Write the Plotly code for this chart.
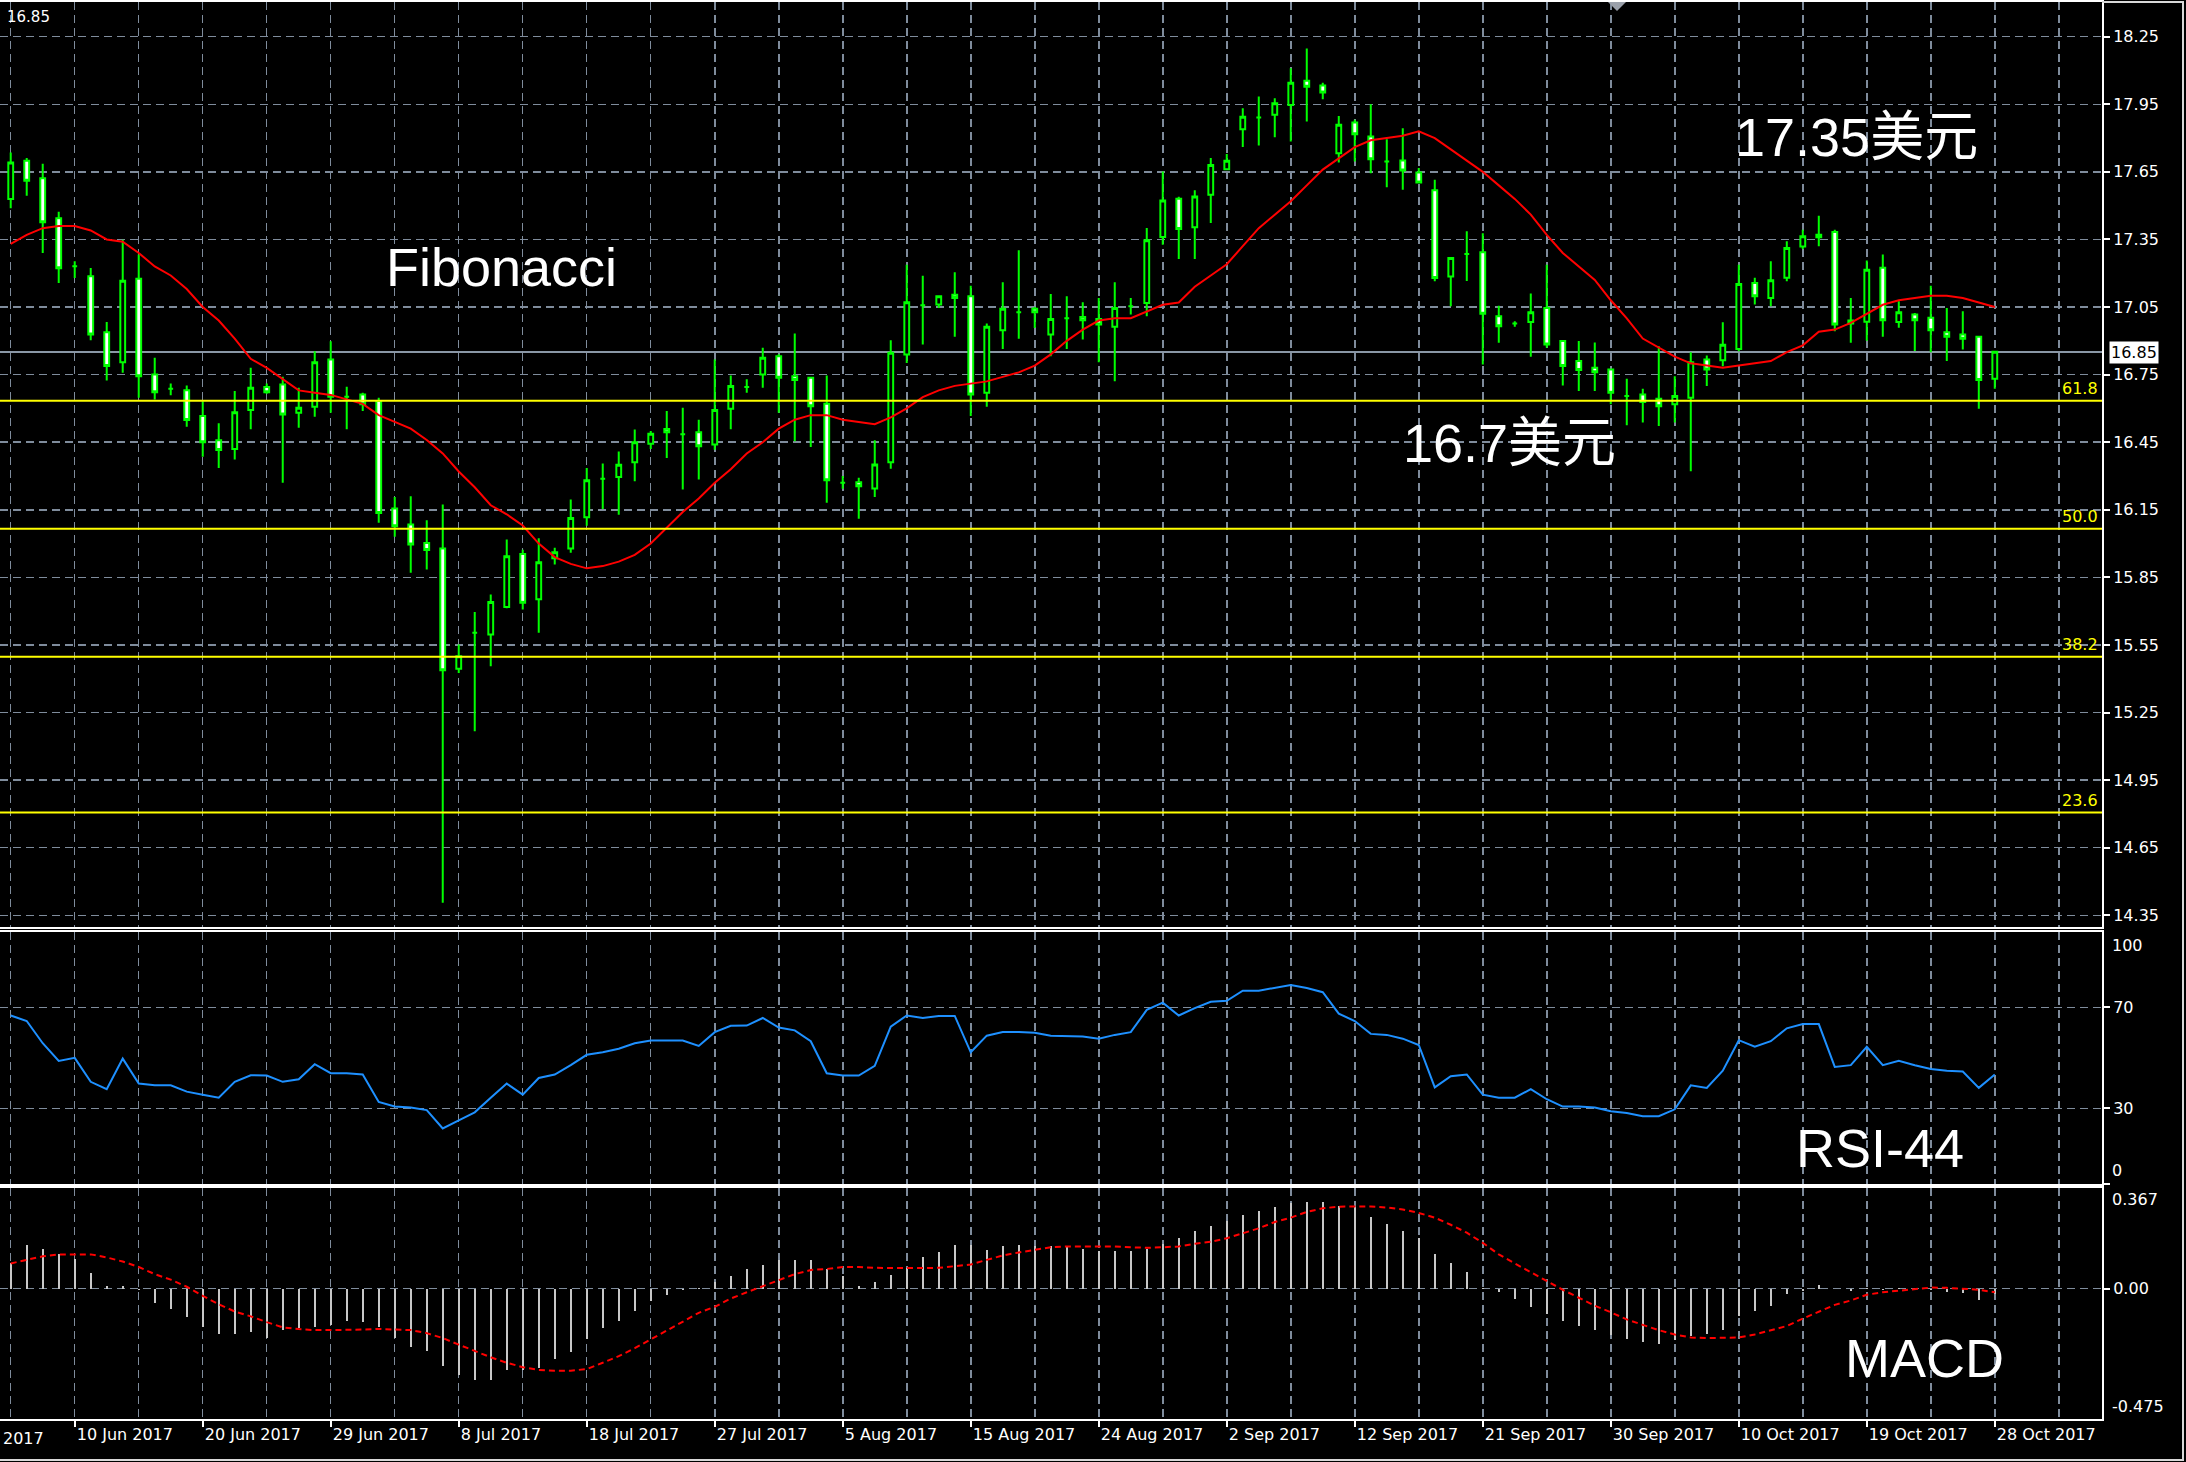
import plotly.graph_objects as go

# ---------------- data ----------------
OPEN = [17.529, 17.699, 17.622, 17.444, 17.231, 17.187, 16.938, 16.805, 17.175, 16.751,
        16.687, 16.681, 16.566, 16.459, 16.420, 16.593, 16.695, 16.706, 16.581, 16.607,
        16.817, 16.652, 16.662, 16.633, 16.156, 16.085, 16.003, 15.978, 15.444, 15.604,
        15.596, 15.719, 15.954, 15.753, 15.935, 15.978, 16.117, 16.288, 16.295, 16.361,
        16.443, 16.509, 16.485, 16.494, 16.440, 16.599, 16.695, 16.750, 16.832, 16.743,
        16.736, 16.621, 16.270, 16.272, 16.244, 16.361, 16.839, 17.058, 17.061, 17.105,
        17.098, 16.670, 16.947, 17.027, 17.042, 16.928, 17.000, 17.006, 16.997, 16.962,
        17.053, 17.068, 17.361, 17.531, 17.404, 17.548, 17.662, 17.839, 17.891, 17.903,
        17.947, 18.054, 18.033, 17.733, 17.869, 17.807, 17.696, 17.700, 17.647, 17.568,
        17.186, 17.285, 17.293, 17.009, 16.977, 16.983, 17.046, 16.899, 16.810, 16.780,
        16.773, 16.655, 16.662, 16.643, 16.618, 16.647, 16.817, 16.814, 16.864, 17.157,
        17.090, 17.180, 17.319, 17.371, 17.383, 16.977, 16.985, 17.224, 16.983, 17.017,
        17.002, 16.938, 16.928, 16.918, 16.732]
HIGH = [17.736, 17.711, 17.686, 17.473, 17.253, 17.223, 16.983, 17.349, 17.283, 16.825,
        16.711, 16.702, 16.632, 16.534, 16.677, 16.780, 16.711, 16.740, 16.692, 16.854,
        16.898, 16.696, 16.670, 16.647, 16.207, 16.210, 16.104, 16.173, 15.552, 15.696,
        15.774, 16.018, 15.973, 16.024, 15.981, 16.196, 16.336, 16.355, 16.409, 16.506,
        16.500, 16.588, 16.603, 16.550, 16.817, 16.746, 16.729, 16.869, 16.840, 16.932,
        16.740, 16.746, 16.300, 16.292, 16.459, 16.903, 17.238, 17.189, 17.098, 17.204,
        17.145, 16.977, 17.160, 17.302, 17.050, 17.108, 17.098, 17.071, 17.090, 17.160,
        17.090, 17.401, 17.652, 17.540, 17.568, 17.711, 17.729, 17.932, 17.984, 17.977,
        18.110, 18.198, 18.046, 17.898, 17.881, 17.950, 17.795, 17.844, 17.667, 17.615,
        17.268, 17.386, 17.377, 17.056, 16.987, 17.110, 17.238, 16.903, 16.899, 16.892,
        16.773, 16.732, 16.687, 16.876, 16.743, 16.849, 16.835, 16.982, 17.238, 17.180,
        17.253, 17.342, 17.393, 17.455, 17.393, 17.090, 17.256, 17.283, 17.076, 17.024,
        17.145, 17.046, 17.031, 16.918, 16.851]
LOW = [17.489, 17.544, 17.290, 17.157, 17.179, 16.903, 16.724, 16.758, 16.647, 16.640,
       16.658, 16.519, 16.385, 16.336, 16.373, 16.507, 16.665, 16.270, 16.514, 16.563,
       16.581, 16.507, 16.588, 16.092, 16.030, 15.870, 15.885, 14.406, 15.426, 15.167,
       15.456, 15.713, 15.707, 15.604, 15.907, 15.959, 16.079, 16.154, 16.128, 16.277,
       16.420, 16.380, 16.240, 16.284, 16.417, 16.507, 16.670, 16.692, 16.581, 16.454,
       16.429, 16.181, 16.243, 16.110, 16.207, 16.332, 16.802, 16.884, 17.046, 16.918,
       16.566, 16.607, 16.864, 16.909, 16.957, 16.832, 16.864, 16.906, 16.805, 16.721,
       17.017, 17.009, 17.327, 17.263, 17.263, 17.423, 17.659, 17.760, 17.767, 17.804,
       17.785, 17.873, 17.972, 17.692, 17.696, 17.644, 17.582, 17.571, 17.600, 17.164,
       17.054, 17.165, 16.795, 16.891, 16.962, 16.829, 16.869, 16.702, 16.677, 16.677,
       16.618, 16.525, 16.537, 16.522, 16.537, 16.321, 16.699, 16.787, 16.854, 17.061,
       17.053, 17.164, 17.308, 17.320, 16.943, 16.891, 16.900, 16.918, 16.958, 16.855,
       16.849, 16.810, 16.861, 16.599, 16.687]
CLOSE = [17.692, 17.610, 17.426, 17.222, 17.231, 16.928, 16.788, 17.167, 16.743, 16.672,
         16.687, 16.548, 16.450, 16.415, 16.583, 16.692, 16.672, 16.573, 16.603, 16.805,
         16.652, 16.652, 16.618, 16.136, 16.077, 15.996, 15.971, 15.438, 15.500, 15.604,
         15.741, 15.944, 15.737, 15.917, 15.962, 16.114, 16.281, 16.288, 16.350, 16.450,
         16.487, 16.494, 16.485, 16.432, 16.593, 16.699, 16.695, 16.825, 16.736, 16.726,
         16.610, 16.281, 16.270, 16.255, 16.351, 16.847, 17.071, 17.058, 17.098, 17.090,
         16.662, 16.962, 17.042, 17.027, 17.027, 16.997, 17.000, 16.991, 16.972, 17.046,
         17.053, 17.346, 17.523, 17.396, 17.541, 17.681, 17.699, 17.895, 17.891, 17.955,
         18.046, 18.028, 18.002, 17.859, 17.817, 17.706, 17.696, 17.656, 17.603, 17.179,
         17.268, 17.285, 17.020, 16.965, 16.977, 17.027, 16.884, 16.788, 16.770, 16.761,
         16.670, 16.655, 16.628, 16.610, 16.655, 16.805, 16.773, 16.883, 17.152, 17.098,
         17.169, 17.312, 17.364, 17.360, 16.972, 16.990, 17.216, 16.991, 17.027, 16.991,
         16.947, 16.918, 16.909, 16.726, 16.851]
MA = [17.33, 17.37, 17.40, 17.41, 17.41, 17.39, 17.35, 17.34, 17.29, 17.23,
      17.19, 17.13, 17.05, 16.99, 16.91, 16.82, 16.78, 16.73, 16.68, 16.67,
      16.66, 16.64, 16.62, 16.57, 16.54, 16.51, 16.46, 16.40, 16.32, 16.25,
      16.17, 16.13, 16.08, 16.00, 15.94, 15.91, 15.89, 15.90, 15.92, 15.95,
      16.00, 16.07, 16.14, 16.20, 16.27, 16.33, 16.40, 16.45, 16.51, 16.55,
      16.57, 16.57, 16.55, 16.54, 16.53, 16.56, 16.60, 16.65, 16.68, 16.70,
      16.71, 16.72, 16.74, 16.76, 16.79, 16.84, 16.90, 16.95, 16.99, 17.00,
      17.00, 17.03, 17.06, 17.07, 17.14, 17.19, 17.24, 17.32, 17.40, 17.46,
      17.52, 17.59, 17.66, 17.71, 17.76, 17.79, 17.80, 17.81, 17.83, 17.80,
      17.75, 17.70, 17.65, 17.59, 17.53, 17.46, 17.37, 17.29, 17.23, 17.17,
      17.08, 17.00, 16.91, 16.87, 16.83, 16.80, 16.79, 16.78, 16.79, 16.80,
      16.81, 16.85, 16.88, 16.94, 16.95, 16.98, 17.02, 17.06, 17.08, 17.09,
      17.10, 17.10, 17.09, 17.07, 17.05]
RSI = [66.8, 64.6, 55.8, 48.8, 50.0, 40.5, 37.6, 49.7, 39.8, 39.1,
       39.1, 36.6, 35.4, 34.2, 40.5, 43.1, 43.0, 40.5, 41.5, 47.5,
       43.9, 43.9, 43.4, 32.5, 30.7, 30.3, 29.3, 22.0, 25.2, 28.4,
       34.2, 39.8, 35.4, 42.0, 43.4, 47.1, 51.2, 52.2, 53.6, 55.8,
       56.9, 56.9, 56.9, 54.7, 60.2, 62.7, 62.8, 65.8, 62.0, 60.9,
       56.6, 43.9, 43.0, 43.0, 46.8, 62.4, 66.8, 65.8, 66.6, 66.6,
       52.2, 58.8, 60.2, 60.2, 59.9, 58.8, 58.5, 58.5, 57.6, 59.1,
       60.2, 69.0, 71.9, 66.8, 69.7, 72.2, 72.6, 76.6, 76.6, 77.7,
       78.9, 77.7, 76.0, 67.5, 64.6, 59.5, 59.1, 57.6, 55.1, 38.3,
       42.7, 43.4, 35.4, 34.2, 34.2, 37.6, 33.6, 30.7, 30.7, 30.3,
       28.8, 28.1, 26.9, 26.9, 29.6, 39.1, 38.1, 44.9, 57.0, 54.4,
       56.6, 61.7, 63.4, 63.4, 46.4, 47.1, 54.4, 47.1, 48.8, 47.1,
       45.6, 44.9, 44.6, 38.1, 43.4]
MACD_HIST = [0.092, 0.158, 0.145, 0.125, 0.110, 0.057, 0.010, 0.008, -0.005, -0.053,
             -0.075, -0.105, -0.141, -0.164, -0.164, -0.158, -0.178, -0.151, -0.142, -0.138,
             -0.132, -0.118, -0.122, -0.141, -0.180, -0.211, -0.228, -0.283, -0.316, -0.333,
             -0.333, -0.296, -0.296, -0.289, -0.257, -0.230, -0.184, -0.145, -0.118, -0.083,
             -0.046, -0.022, -0.004, 0.004, 0.026, 0.046, 0.072, 0.088, 0.105, 0.105,
             0.105, 0.072, 0.046, 0.009, 0.026, 0.049, 0.075, 0.114, 0.132, 0.158,
             0.158, 0.141, 0.154, 0.158, 0.154, 0.154, 0.154, 0.145, 0.138, 0.138,
             0.136, 0.145, 0.164, 0.184, 0.210, 0.230, 0.246, 0.267, 0.283, 0.299,
             0.312, 0.316, 0.316, 0.303, 0.296, 0.263, 0.237, 0.210, 0.184, 0.128,
             0.092, 0.062, 0.002, -0.013, -0.039, -0.066, -0.092, -0.118, -0.136, -0.149,
             -0.167, -0.184, -0.193, -0.201, -0.188, -0.171, -0.164, -0.151, -0.099, -0.083,
             -0.062, -0.020, -0.007, 0.013, -0.002, -0.007, 0.002, -0.004, 0.002, 0.004,
             -0.004, -0.013, -0.017, -0.043, -0.020]
MACD_SIGNAL = [0.092, 0.105, 0.118, 0.125, 0.125, 0.125, 0.114, 0.099, 0.079, 0.053,
               0.033, 0.007, -0.026, -0.057, -0.083, -0.101, -0.122, -0.141, -0.147, -0.151,
               -0.151, -0.151, -0.149, -0.147, -0.149, -0.151, -0.162, -0.180, -0.204, -0.228,
               -0.250, -0.270, -0.286, -0.296, -0.299, -0.299, -0.293, -0.270, -0.246, -0.217,
               -0.184, -0.151, -0.118, -0.088, -0.066, -0.036, -0.013, 0.009, 0.033, 0.053,
               0.068, 0.072, 0.079, 0.079, 0.076, 0.075, 0.075, 0.075, 0.076, 0.083,
               0.088, 0.105, 0.121, 0.132, 0.141, 0.151, 0.154, 0.154, 0.154, 0.154,
               0.151, 0.149, 0.151, 0.154, 0.164, 0.171, 0.184, 0.201, 0.220, 0.243,
               0.259, 0.280, 0.293, 0.299, 0.300, 0.300, 0.296, 0.289, 0.276, 0.259,
               0.233, 0.204, 0.167, 0.125, 0.092, 0.059, 0.026, -0.004, -0.033, -0.062,
               -0.086, -0.112, -0.132, -0.151, -0.167, -0.178, -0.180, -0.180, -0.178, -0.167,
               -0.151, -0.136, -0.109, -0.083, -0.059, -0.043, -0.022, -0.013, -0.007, 0.000,
               0.004, 0.003, 0.000, -0.004, -0.013]

DATE_LABELS = ["10 Jun 2017", "20 Jun 2017", "29 Jun 2017", "8 Jul 2017", "18 Jul 2017",
               "27 Jul 2017", "5 Aug 2017", "15 Aug 2017", "24 Aug 2017", "2 Sep 2017",
               "12 Sep 2017", "21 Sep 2017", "30 Sep 2017", "10 Oct 2017", "19 Oct 2017",
               "28 Oct 2017"]
DATE_LABEL_BARS = [4, 12, 20, 28, 36, 44, 52, 60, 68, 76, 84, 92, 100, 108, 116, 124]
GRID_BARS = [0, 8, 16, 24, 32, 40, 48, 56, 64, 72, 80, 88, 96, 104, 112, 120, 128]
PRICE_TICKS = [14.35, 14.65, 14.95, 15.25, 15.55, 15.85, 16.15, 16.45, 16.75, 17.05,
               17.35, 17.65, 17.95, 18.25]
FIB_LEVELS = [16.634, 16.066, 15.498, 14.806]
FIB_NAMES = ["61.8", "50.0", "38.2", "23.6"]
BID = 16.85
RSI_TICKS = [70, 30, 0]
RSI_TICK_TEXT = ["70", "30", ""]
MACD_TICKS = [0]
MACD_TICK_TEXT = ["0.00"]
PRICE_RANGE = [14.298, 18.404]
RSI_RANGE = [0, 100]
MACD_RANGE = [-0.475, 0.367]

# ---------------- geometry helpers ----------------
W, H = 2186, 1462
ML, MR, MT, MB = 0, 84, 2, 43
PW = W - ML - MR
PH = H - MT - MB


def px(xpix):
    return (xpix - ML) / PW


def py(ypix):
    return (H - MB - ypix) / PH


GRID = "#7f8c9c"
DASH = "8px,5px"
GREEN = "#00ff00"
TICKFONT = dict(family="DejaVu Sans, Verdana, sans-serif", size=16, color="white")
BIGFONT = "Liberation Sans, Arial, Noto Sans CJK SC, sans-serif"

x = list(range(len(OPEN)))
XR = [-0.67, 130.7]

fig = go.Figure()

# candles
fig.add_trace(go.Candlestick(
    x=x, open=OPEN, high=HIGH, low=LOW, close=CLOSE,
    increasing=dict(line=dict(color=GREEN, width=2), fillcolor="black"),
    decreasing=dict(line=dict(color=GREEN, width=2), fillcolor="white"),
    whiskerwidth=0, xaxis="x", yaxis="y", hoverinfo="skip", showlegend=False))

# moving average
fig.add_trace(go.Scatter(x=x, y=MA, mode="lines", line=dict(color="#ff0000", width=2),
                         xaxis="x", yaxis="y", hoverinfo="skip"))

# RSI
fig.add_trace(go.Scatter(x=x, y=RSI, mode="lines", line=dict(color="#1e90ff", width=2),
                         xaxis="x2", yaxis="y2", hoverinfo="skip"))

# MACD histogram + signal
fig.add_trace(go.Bar(x=x, y=MACD_HIST, width=0.13, marker=dict(color="#c8c8c8", line=dict(width=0)),
                     xaxis="x3", yaxis="y3", hoverinfo="skip"))
fig.add_trace(go.Scatter(x=x, y=MACD_SIGNAL, mode="lines",
                         line=dict(color="#ff0000", width=2, dash="6px,4px"),
                         xaxis="x3", yaxis="y3", hoverinfo="skip"))

minor_grid = dict(tickmode="array", tickvals=GRID_BARS, showgrid=True, gridcolor=GRID,
                  gridwidth=1.5, griddash=DASH, ticks="")


def xaxis(show_labels, anchor):
    d = dict(range=XR, anchor=anchor, tickmode="array", tickvals=DATE_LABEL_BARS,
             ticktext=DATE_LABELS, showgrid=True, gridcolor=GRID, gridwidth=1.5,
             griddash=DASH, zeroline=False, showline=True, linecolor="white",
             linewidth=2, mirror=True, minor=minor_grid, fixedrange=True,
             rangeslider=dict(visible=False))
    if show_labels:
        d.update(showticklabels=True, ticks="outside", ticklen=6, tickwidth=2,
                 tickcolor="white", tickfont=TICKFONT, ticklabelposition="outside right")
    else:
        d.update(showticklabels=False, ticks="")
    return d


def yaxis(domain, rng, tickvals, ticktext, anchor):
    return dict(domain=domain, range=rng, anchor=anchor, side="right", tickmode="array",
                tickvals=tickvals, ticktext=ticktext, showgrid=True, gridcolor=GRID,
                gridwidth=1.5, griddash=DASH, zeroline=False, showline=True,
                linecolor="white", linewidth=2, mirror=False, ticks="outside",
                ticklen=6, tickwidth=2, tickcolor="white", tickfont=TICKFONT,
                fixedrange=True)


fig.update_layout(
    width=W, height=H, paper_bgcolor="black", plot_bgcolor="black",
    margin=dict(l=ML, r=MR, t=MT, b=MB, pad=0), showlegend=False,
    boxgap=0.57, bargap=0,
    xaxis=xaxis(False, "y"), xaxis2=xaxis(False, "y2"), xaxis3=xaxis(True, "y3"),
    yaxis=yaxis([py(927), 1.0], PRICE_RANGE, PRICE_TICKS,
                [f"{v:.2f}" for v in PRICE_TICKS], "x"),
    yaxis2=yaxis([py(1184), py(931.7)], RSI_RANGE, RSI_TICKS, RSI_TICK_TEXT, "x2"),
    yaxis3=yaxis([0, py(1188)], MACD_RANGE, MACD_TICKS, MACD_TICK_TEXT, "x3"),
)

shapes = []
# Fibonacci levels
for lvl in FIB_LEVELS:
    shapes.append(dict(type="line", xref="paper", yref="y", x0=0, x1=1, y0=lvl, y1=lvl,
                       line=dict(color="#ffff00", width=2), layer="above"))
# bid line
shapes.append(dict(type="line", xref="paper", yref="y", x0=0, x1=1, y0=BID, y1=BID,
                   line=dict(color="#8a97a6", width=2), layer="below"))
# chart-shift marker
shapes.append(dict(type="path", xref="paper", yref="paper",
                   path=f"M {px(1608)},{py(2)} L {px(1626)},{py(2)} L {px(1617)},{py(11)} Z",
                   fillcolor="#9aa0aa", line=dict(width=0)))
# outer frame
shapes.append(dict(type="line", xref="paper", yref="paper", x0=px(2183), x1=px(2183),
                   y0=py(1460), y1=py(2), line=dict(color="#d8d8d8", width=2)))
shapes.append(dict(type="line", xref="paper", yref="paper", x0=px(0), x1=px(2184),
                   y0=py(1460), y1=py(1460), line=dict(color="#d8d8d8", width=2)))
shapes.append(dict(type="line", xref="paper", yref="paper", x0=px(2102), x1=px(2184),
                   y0=py(2), y1=py(2), line=dict(color="#d8d8d8", width=2)))

annotations = []
for lvl, name in zip(FIB_LEVELS, FIB_NAMES):
    annotations.append(dict(xref="paper", yref="y", x=px(2100), y=lvl, text=name,
                            showarrow=False, xanchor="right", yanchor="bottom", yshift=1,
                            font=dict(family=TICKFONT["family"], size=16, color="#ffff00")))
annotations.append(dict(xref="paper", yref="y", x=px(2109), y=BID, text=f"{BID:.2f}",
                        showarrow=False, xanchor="left", yanchor="middle",
                        bgcolor="white", borderpad=1,
                        font=dict(family=TICKFONT["family"], size=16, color="black")))
annotations.append(dict(xref="paper", yref="paper", x=px(5), y=py(17), text=f"{BID:.2f}",
                        showarrow=False, xanchor="left", yanchor="middle",
                        font=dict(family=TICKFONT["family"], size=15, color="white")))
# side labels clamped inside panels (as in the terminal)
for text, ypix in [("100", 945), ("0", 1170), ("0.367", 1199), ("-0.475", 1406)]:
    annotations.append(dict(xref="paper", yref="paper", x=px(2110), y=py(ypix), text=text,
                            showarrow=False, xanchor="left", yanchor="middle", font=TICKFONT))
# cut-off first date label (tail visible at the left edge)
annotations.append(dict(xref="paper", yref="paper", x=px(1), y=py(1438), text="2017",
                        showarrow=False, xanchor="left", yanchor="middle", font=TICKFONT))
# big captions
for text, xc, yc in [("Fibonacci", 501, 267), ("17.35美元", 1856, 137),
                     ("16.7美元", 1509, 443), ("RSI-44", 1880, 1148), ("MACD", 1924, 1358)]:
    annotations.append(dict(xref="paper", yref="paper", x=px(xc), y=py(yc), text=text,
                            showarrow=False, xanchor="center", yanchor="middle",
                            font=dict(family=BIGFONT, size=54, color="white")))

fig.update_layout(shapes=shapes, annotations=annotations)
fig.write_html("out.html", config={"displayModeBar": False, "staticPlot": True},
               post_script="document.body.style.margin='0px';document.body.style.overflow='hidden';")
